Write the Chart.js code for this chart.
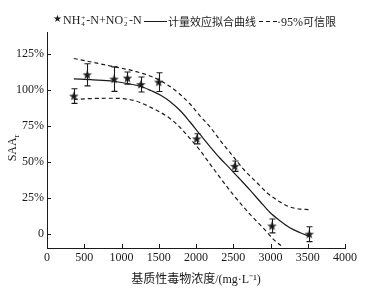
<!DOCTYPE html>
<html>
<head>
<meta charset="utf-8">
<script src="https://cdn.jsdelivr.net/npm/chart.js@4.4.0/dist/chart.umd.min.js"></script>
<style>
body { margin: 0; background: #fff; }
#wrap { position: relative; width: 387px; height: 292px; }
.lg { position: absolute; top: 13px; height: 16px; line-height: 16px; white-space: nowrap;
      font: 12px "Liberation Serif", serif; color: #1a1a1a; }
.cjk { font-family: "Noto Sans CJK SC", sans-serif; font-size: 11px; }
.ss { display: inline-flex; flex-direction: column; vertical-align: middle; font-size: 7px; line-height: 6px; margin: 0 1px; }
.ln { position: absolute; top: 21px; height: 1.3px; background: #1a1a1a; }
.ln.dash { background: repeating-linear-gradient(90deg, #1a1a1a 0 4px, transparent 4px 7px); }
</style>
</head>
<body>
<div id="wrap">
  <canvas id="chart1" width="387" height="292"></canvas>
  <span class="lg" style="left:53px;font-family:'DejaVu Sans';font-size:10px">★</span>
  <span class="lg" style="left:63px">NH<span class="ss"><span>+</span><span>4</span></span>-N+NO<span class="ss"><span>−</span><span>2</span></span>-N</span>
  <span class="ln" style="left:144px;width:23px"></span>
  <span class="lg cjk" style="left:168px">计量效应拟合曲线</span>
  <span class="ln dash" style="left:259px;width:18px"></span>
  <span class="lg" style="left:277px">·95%<span class="cjk">可信限</span></span>
</div>
<script>
// measured points (mg/L, SAAr %)
var ptX = [360, 540, 900, 1080, 1260, 1500, 2010, 2520, 3020, 3520];
var ptY = [95.5, 110.3, 107.3, 108.0, 103.5, 105.2, 65.8, 46.8, 5.3, -0.4];
var ptErr = [5.1, 7.7, 8.5, 4.2, 5.2, 6.5, 3.5, 3.6, 4.8, 5.2];

// dose-response fitted curve
var fitX = [360, 620, 890, 1250, 1400, 1520, 1650, 1800, 1920, 2060, 2190, 2320, 2460, 2590, 2720, 2860, 2990, 3130, 3260, 3400, 3520];
var fitY = [107.4, 106.8, 105.8, 102.3, 99.2, 96.3, 91.8, 84.8, 77.5, 68.5, 60.3, 52.5, 45.0, 37.8, 30.5, 22.3, 14.8, 8.8, 4.1, 0.6, -2.0];

// 95% confidence limits
var upX = [360, 620, 890, 1160, 1430, 1610, 1780, 1920, 2050, 2190, 2320, 2500, 2650, 2815, 2950, 3080, 3260, 3400, 3510];
var upY = [121.6, 118.9, 116.0, 113.0, 108.5, 103.5, 97.0, 90.0, 82.0, 74.0, 65.0, 53.5, 44.0, 35.5, 28.5, 23.5, 18.5, 17.0, 16.7];
var loX = [360, 600, 850, 1160, 1400, 1650, 1800, 1920, 2050, 2250, 2500, 2750, 2900, 3040, 3170];
var loY = [93.2, 93.8, 94.0, 92.5, 87.5, 80.0, 73.0, 66.0, 58.0, 44.0, 27.0, 12.0, 4.0, -4.0, -9.5];

var xTicks = [0, 500, 1000, 1500, 2000, 2500, 3000, 3500, 4000];
var yTicks = [0, 25, 50, 75, 100, 125];

var ink = '#1a1a1a';

function pairs(xs, ys) {
    return xs.map(function (x, i) { return { x: x, y: ys[i] }; });
}

// filled five point star used as point marker
var star = document.createElement('canvas');
star.width = 11; star.height = 11;
(function () {
    var c = star.getContext('2d');
    c.fillStyle = ink;
    c.beginPath();
    for (var k = 0; k < 10; k++) {
        var r = k % 2 ? 2.0 : 5.0;
        var a = -Math.PI / 2 + k * Math.PI / 5;
        c.lineTo(5.5 + r * Math.cos(a), 5.8 + r * Math.sin(a));
    }
    c.closePath();
    c.fill();
})();

// error bars drawn under the stars
var errorBars = {
    id: 'errorBars',
    beforeDatasetsDraw: function (chart) {
        var ctx = chart.ctx, xs = chart.scales.x, ys = chart.scales.y;
        ctx.save();
        ctx.strokeStyle = ink;
        ctx.lineWidth = 1.1;
        for (var i = 0; i < ptX.length; i++) {
            var px = Math.round(xs.getPixelForValue(ptX[i])) + 0.5;
            var t = ys.getPixelForValue(ptY[i] + ptErr[i]);
            var b = ys.getPixelForValue(ptY[i] - ptErr[i]);
            ctx.beginPath();
            ctx.moveTo(px, t); ctx.lineTo(px, b);
            ctx.moveTo(px - 3, t); ctx.lineTo(px + 3, t);
            ctx.moveTo(px - 3, b); ctx.lineTo(px + 3, b);
            ctx.stroke();
        }
        ctx.restore();
    }
};

// inward ticks + axis titles
var axisDeco = {
    id: 'axisDeco',
    afterDraw: function (chart) {
        var ctx = chart.ctx, xs = chart.scales.x, ys = chart.scales.y, a = chart.chartArea;
        ctx.save();
        ctx.strokeStyle = ink;
        ctx.lineWidth = 1;
        ctx.beginPath();
        xTicks.forEach(function (v) {
            var px = Math.round(xs.getPixelForValue(v)) + 0.5;
            ctx.moveTo(px, a.bottom); ctx.lineTo(px, a.bottom - 4);
        });
        yTicks.forEach(function (v) {
            var py = Math.round(ys.getPixelForValue(v)) + 0.5;
            ctx.moveTo(a.left, py); ctx.lineTo(a.left + 4, py);
        });
        ctx.stroke();

        ctx.fillStyle = ink;
        ctx.textBaseline = 'middle';
        ctx.textAlign = 'center';
        ctx.font = '12px "Liberation Serif", "Noto Sans CJK SC"';
        ctx.fillText('基质性毒物浓度/(mg·L⁻¹)', (a.left + a.right) / 2, 280);

        ctx.translate(13, 148);
        ctx.rotate(-Math.PI / 2);
        ctx.textAlign = 'left';
        ctx.font = '12px "Liberation Serif"';
        var w = ctx.measureText('SAA').width;
        ctx.font = '8px "Liberation Serif"';
        var w2 = ctx.measureText('r').width;
        ctx.font = '12px "Liberation Serif"';
        ctx.fillText('SAA', -(w + w2) / 2, 0);
        ctx.font = '8px "Liberation Serif"';
        ctx.fillText('r', -(w + w2) / 2 + w, 4);
        ctx.restore();
    }
};

var lineStyle = { borderColor: ink, borderWidth: 1.2, pointRadius: 0, fill: false, showLine: true, cubicInterpolationMode: 'monotone' };

var chart = new Chart(document.getElementById('chart1'), {
    type: 'scatter',
    data: {
        datasets: [
            { label: 'points', data: pairs(ptX, ptY), pointStyle: star, pointRadius: 5, showLine: false },
            Object.assign({ label: 'fit', data: pairs(fitX, fitY) }, lineStyle),
            Object.assign({ label: 'upper', data: pairs(upX, upY), borderDash: [4, 3] }, lineStyle),
            Object.assign({ label: 'lower', data: pairs(loX, loY), borderDash: [4, 3] }, lineStyle)
        ]
    },
    options: {
        responsive: false,
        animation: false,
        devicePixelRatio: 1,
        layout: { padding: { left: 0, right: 42, top: 32, bottom: 0 } },
        plugins: { legend: { display: false }, tooltip: { enabled: false } },
        scales: {
            x: {
                min: 0, max: 4000,
                afterBuildTicks: function (s) { s.ticks = xTicks.map(function (v) { return { value: v }; }); },
                afterFit: function (s) { s.height = 44; },
                grid: { drawOnChartArea: false, drawTicks: false },
                border: { color: ink, width: 1 },
                ticks: {
                    padding: 3, color: ink, maxRotation: 0, font: { family: '"Liberation Serif"', size: 12 },
                    callback: function (v) { return String(v); }
                }
            },
            y: {
                min: -10, max: 140,
                afterBuildTicks: function (s) { s.ticks = yTicks.map(function (v) { return { value: v }; }); },
                afterFit: function (s) { s.width = 47; },
                grid: { drawOnChartArea: false, drawTicks: false },
                border: { color: ink, width: 1 },
                ticks: {
                    padding: 3, color: ink, font: { family: '"Liberation Serif"', size: 12 },
                    callback: function (v) { return v === 0 ? '0' : v + '%'; }
                }
            }
        }
    },
    plugins: [errorBars, axisDeco]
});
</script>
</body>
</html>
